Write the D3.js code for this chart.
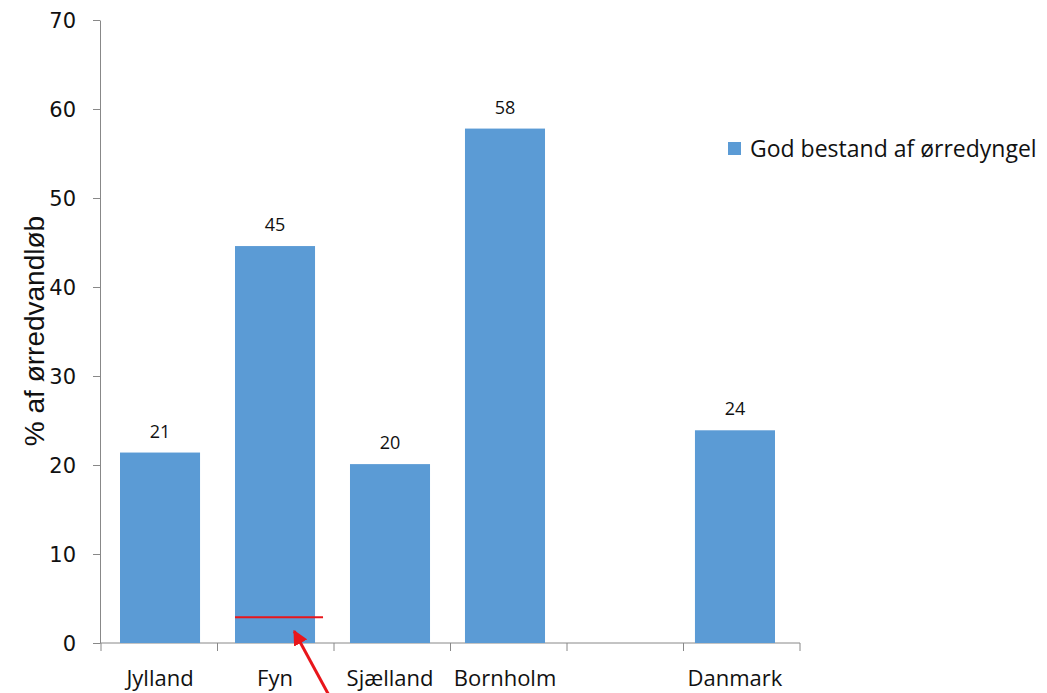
<!DOCTYPE html>
<html>
<head>
<meta charset="utf-8">
<script src="https://cdn.jsdelivr.net/npm/d3@7"></script>
<style>
  body { margin: 0; background: #fff; }
  .axis path, .axis line { stroke: #888; }
  .tick-y text { font-family: "DejaVu Sans", sans-serif; font-size: 21px; fill: #111; }
  .tick-x text { font-family: "Open Sans", sans-serif; font-size: 22px; fill: #111; }
  .axis-title { font-family: "Liberation Sans", sans-serif; font-size: 28px; fill: #111; }
  .bar-label { font-family: "Open Sans", sans-serif; font-size: 18px; fill: #111; }
  .legend text { font-family: "Open Sans", sans-serif; font-size: 23px; fill: #111; }
</style>
</head>
<body>
<svg id="chart" width="1047" height="693"></svg>
<script>
/* DATA */
let regions = ["Jylland", "Fyn", "Sjælland", "Bornholm", "", "Danmark"];
let shares = [21.4, 44.6, 20.1, 57.8, null, 23.9];
let yTicks = [0, 10, 20, 30, 40, 50, 60, 70];
let seriesName = "God bestand af ørredyngel";
let markRegion = "Fyn";
let markValue = 2.9;

const margin = {top: 20, right: 247, bottom: 50, left: 100};
const width = 1047, height = 693;
const plotWidth = width - margin.left - margin.right;
const plotHeight = height - margin.top - margin.bottom;

let svg = d3.select("svg#chart");
const plot = svg.append("g").attr("transform", "translate(" + margin.left + "," + margin.top + ")");

/* SCALES */
let regionScale = d3.scaleBand()
  .domain(d3.range(regions.length))
  .range([0, 695])
  .paddingInner(0.304)
  .paddingOuter(0.174);

let yScale = d3.scaleLinear()
  .domain([0, 70])
  .range([plotHeight, 0]);

/* AXES */
let yGroup = plot.append("g").attr("class", "axis tick-y")
  .call(d3.axisLeft(yScale).tickValues(yTicks).tickSize(7).tickSizeOuter(0).tickPadding(17));
yGroup.selectAll("text").attr("dy", "0.36em");

// category boundaries for x ticks
let bounds = d3.range(regions.length + 1).map(i => 1 + i * 116.5);

let xGroup = plot.append("g").attr("class", "axis tick-x")
  .attr("transform", "translate(0," + plotHeight + ")");
xGroup.append("line").attr("x1", 0).attr("x2", bounds[bounds.length - 1])
  .attr("stroke", "#888");
xGroup.selectAll("line.tk").data(bounds).join("line")
  .attr("class", "tk")
  .attr("x1", d => d).attr("x2", d => d)
  .attr("y1", 0).attr("y2", 8).attr("stroke", "#888");
xGroup.selectAll("text").data(regions).join("text")
  .attr("x", (d, i) => regionScale(i) + regionScale.bandwidth() / 2)
  .attr("y", 43)
  .attr("text-anchor", "middle")
  .text(d => d);

/* AXIS TITLE */
svg.append("text")
  .attr("class", "axis-title")
  .attr("transform", "translate(44,331) rotate(-90)")
  .attr("text-anchor", "middle")
  .text("% af ørredvandløb");

/* BARS */
let data = regions.map((r, i) => ({i: i, region: r, value: shares[i]})).filter(d => d.value != null);

plot.selectAll("rect.bar").data(data).join("rect")
  .attr("class", "bar")
  .attr("x", d => regionScale(d.i))
  .attr("width", regionScale.bandwidth())
  .attr("y", d => yScale(d.value))
  .attr("height", d => plotHeight - yScale(d.value))
  .attr("fill", "#5b9bd5");

plot.selectAll("text.bar-label").data(data).join("text")
  .attr("class", "bar-label")
  .attr("x", d => regionScale(d.i) + regionScale.bandwidth() / 2)
  .attr("y", d => yScale(d.value) - 15)
  .attr("text-anchor", "middle")
  .text(d => Math.round(d.value));

/* RED MARKER + ARROW */
let mi = regions.indexOf(markRegion);
let mx0 = regionScale(mi);
let my = yScale(markValue);
plot.append("line")
  .attr("x1", mx0).attr("x2", mx0 + regionScale.bandwidth() + 8)
  .attr("y1", my).attr("y2", my)
  .attr("stroke", "#e8161b").attr("stroke-width", 2);

svg.append("defs").append("marker")
  .attr("id", "arrow")
  .attr("viewBox", "0 0 10 10")
  .attr("refX", 9).attr("refY", 5)
  .attr("markerWidth", 5).attr("markerHeight", 5)
  .attr("orient", "auto")
  .append("path").attr("d", "M0,0 L10,5 L0,10 z").attr("fill", "#e8161b");

let tipX = mx0 + regionScale.bandwidth() * 0.74;
let tipY = my + 14;
plot.append("line")
  .attr("x1", tipX + 40).attr("y1", plotHeight + 62)
  .attr("x2", tipX).attr("y2", tipY)
  .attr("stroke", "#e8161b").attr("stroke-width", 3)
  .attr("marker-end", "url(#arrow)");

/* LEGEND */
const legend = svg.append("g").attr("class", "legend").attr("transform", "translate(728,142)");
legend.append("rect").attr("width", 13).attr("height", 13).attr("fill", "#5b9bd5");
legend.append("text").attr("x", 22).attr("y", 15).text(seriesName);
</script>
</body>
</html>
